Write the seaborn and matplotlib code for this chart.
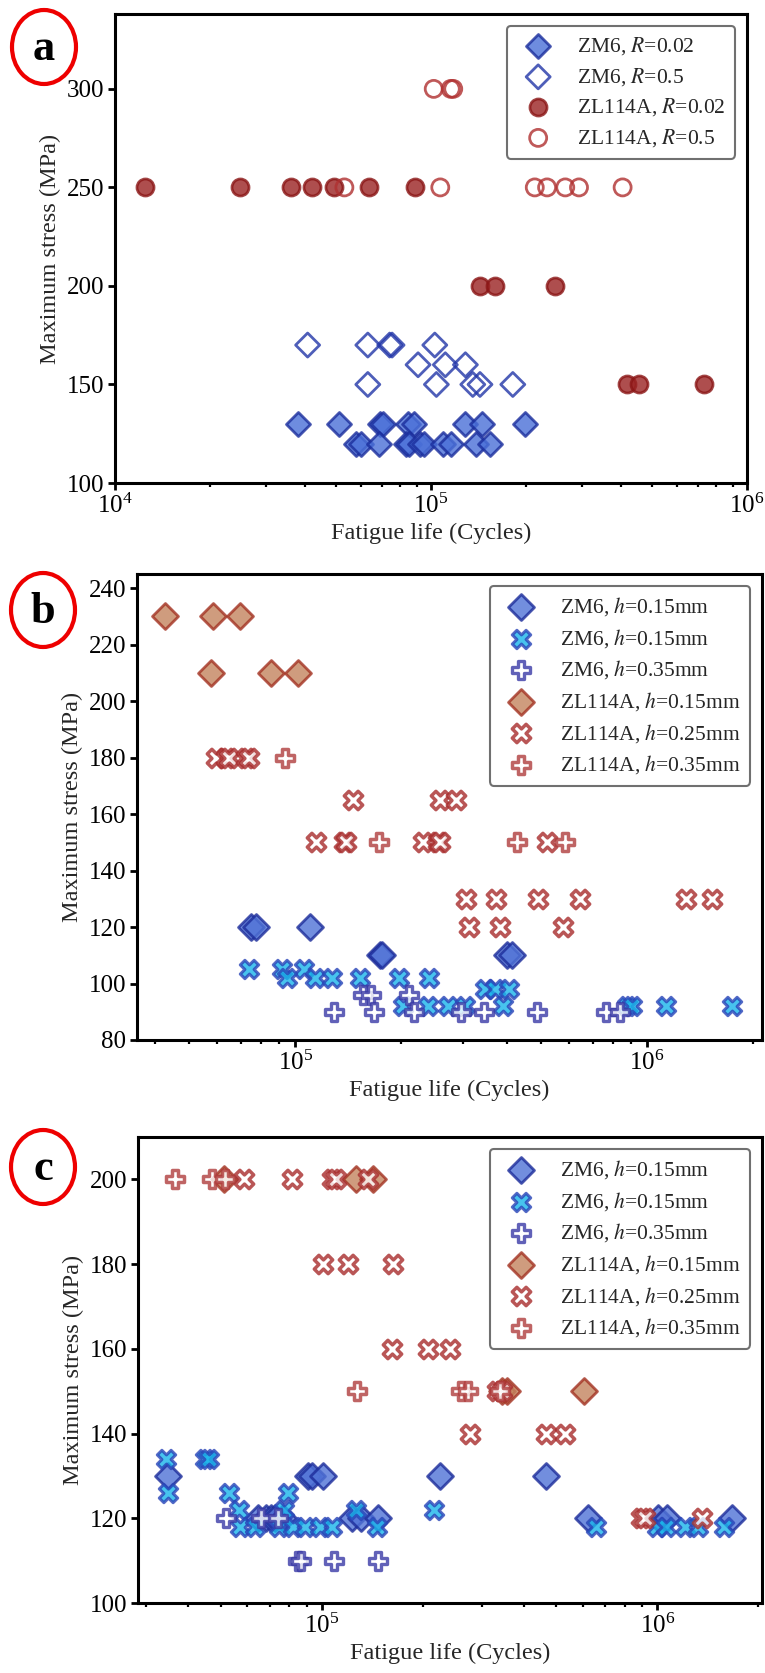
import numpy as np
import pandas as pd
import matplotlib
matplotlib.use("Agg")
import matplotlib.pyplot as plt
import seaborn as sns
from matplotlib.patches import Ellipse

# ---------------- data : panel a ----------------
a_zm6_r002_life = [37.9e3, 51.3e3, 69e3, 70.7e3, 84.7e3, 88.5e3, 128.5e3, 144.5e3, 198e3,
                   57.7e3, 60.2e3, 68.5e3, 83.3e3, 85.3e3, 92.2e3, 95e3, 109.4e3, 115.5e3, 139.3e3, 153.5e3]
a_zm6_r002_stress = [130] * 9 + [120] * 11
a_zm6_r05_life = [40.7e3, 63.1e3, 74e3, 75.3e3, 102.8e3,
                  91e3, 111e3, 128.5e3,
                  63.1e3, 104e3, 135.6e3, 142.9e3, 181.5e3]
a_zm6_r05_stress = [170] * 5 + [160] * 3 + [150] * 5
a_zl_r002_life = [12.4e3, 24.8e3, 36.1e3, 41.9e3, 49.2e3, 63.5e3, 89.3e3,
                  142.9e3, 159e3, 246e3,
                  416e3, 454e3, 729e3]
a_zl_r002_stress = [250] * 7 + [200] * 3 + [150] * 3
a_zl_r05_life = [102e3, 115.5e3, 117.6e3,
                 53.2e3, 107e3, 213e3, 233e3, 266e3, 294e3, 404e3]
a_zl_r05_stress = [300] * 3 + [250] * 7

# ---------------- data : panel b ----------------
b_zm6_d_life = [75e3, 77.5e3, 110e3, 173.8e3, 176.7e3, 400e3, 413e3]
b_zm6_d_stress = [120, 120, 120, 110, 110, 110, 110]
b_zm6_x_life = [73.8e3, 91.4e3, 105.6e3,
                94.7e3, 113.6e3, 127e3, 152.5e3, 196.8e3, 240.6e3,
                347e3, 370e3, 406e3,
                202e3, 239e3, 271.5e3, 303e3, 390e3, 875e3, 903e3, 1.13e6, 1.74e6]
b_zm6_x_stress = [105] * 3 + [102] * 6 + [98] * 3 + [92] * 9
b_zm6_p_life = [156e3, 164e3, 210e3,
                129e3, 167.5e3, 217e3, 296e3, 344e3, 485e3, 766e3, 839e3]
b_zm6_p_stress = [96] * 3 + [90] * 8
b_zl_d_life = [42.5e3, 58.5e3, 69.7e3, 57.5e3, 85.3e3, 102e3]
b_zl_d_stress = [230, 230, 230, 210, 210, 210]
b_zl_x_life = [59.7e3, 63.6e3, 65e3, 72.6e3, 73.8e3,
               145.6e3, 258.6e3, 286.5e3,
               114.4e3, 137.8e3, 139.8e3, 231e3, 254.7e3, 258.6e3, 520e3,
               305e3, 372e3, 490e3, 646e3, 1.29e6, 1.53e6,
               312e3, 382e3, 578e3]
b_zl_x_stress = [180] * 5 + [165] * 3 + [150] * 7 + [130] * 6 + [120] * 3
b_zl_p_life = [93.2e3, 173e3, 427e3, 583e3]
b_zl_p_stress = [180, 150, 150, 150]

# ---------------- data : panel c ----------------
c_zm6_d_life = [34.8e3, 91e3, 93.5e3, 100.7e3, 225e3, 467e3,
                64.3e3, 68e3, 70.4e3, 72.7e3, 76.5e3, 123e3, 130.7e3, 147e3,
                620e3, 1.007e6, 1.07e6, 1.67e6]
c_zm6_d_stress = [130] * 6 + [120] * 12
c_zm6_x_life = [34.3e3, 44.8e3, 46e3,
                34.8e3, 53e3, 79e3,
                56.6e3, 77.1e3, 126.4e3, 216e3,
                57e3, 63e3, 74.5e3, 81.8e3, 89e3, 98.4e3, 107e3, 146e3,
                656e3, 1.0e6, 1.06e6, 1.21e6, 1.32e6, 1.58e6]
c_zm6_x_stress = [134] * 3 + [126] * 3 + [122] * 4 + [118] * 14
c_zm6_p_life = [51.8e3, 66e3, 74e3, 85.1e3, 86.9e3, 108.7e3, 147e3]
c_zm6_p_stress = [120, 120, 120, 110, 110, 110, 110]
c_zl_d_life = [51.2e3, 126.4e3, 142e3, 345e3, 357e3, 605e3]
c_zl_d_stress = [200, 200, 200, 150, 150, 150]
c_zl_x_life = [58.5e3, 81.3e3, 107e3, 110.5e3, 137.5e3,
               101e3, 119.4e3, 163e3,
               161.5e3, 207.6e3, 241e3,
               333e3, 343e3,
               277e3, 467e3, 529e3,
               895e3, 916e3, 1.36e6]
c_zl_x_stress = [200] * 5 + [180] * 3 + [160] * 3 + [150] * 2 + [140] * 3 + [120] * 3
c_zl_p_life = [36.6e3, 47.1e3, 51.5e3, 127.6e3, 259.5e3, 273e3, 340e3]
c_zl_p_stress = [200, 200, 200, 150, 150, 150, 150]

legend_a = ["ZM6, $R$=0.02", "ZM6, $R$=0.5", "ZL114A, $R$=0.02", "ZL114A, $R$=0.5"]
legend_bc = ["ZM6, $h$=0.15mm", "ZM6, $h$=0.15mm", "ZM6, $h$=0.35mm",
             "ZL114A, $h$=0.15mm", "ZL114A, $h$=0.25mm", "ZL114A, $h$=0.35mm"]

# ---------------- style ----------------
sns.set_theme(style="ticks")
plt.rcParams["font.family"] = ["Liberation Serif", "DejaVu Serif"]
plt.rcParams["mathtext.fontset"] = "stix"
plt.rcParams["axes.linewidth"] = 2.2
plt.rcParams["xtick.major.width"] = 2.0
plt.rcParams["ytick.major.width"] = 2.0
plt.rcParams["xtick.minor.width"] = 1.6
plt.rcParams["xtick.major.size"] = 5
plt.rcParams["ytick.major.size"] = 5
plt.rcParams["xtick.minor.size"] = 3
plt.rcParams["xtick.color"] = "black"
plt.rcParams["ytick.color"] = "black"
plt.rcParams["axes.edgecolor"] = "black"

W, H = 765, 1673
fig = plt.figure(figsize=(W / 100, H / 100), dpi=100)


def ax_at(l, t, r, b):
    return fig.add_axes([l / W, 1 - b / H, (r - l) / W, (b - t) / H])


axA = ax_at(115, 14, 747, 483)
axB = ax_at(137, 574, 762, 1040)
axC = ax_at(138, 1137, 762, 1603)

ALPHA = 0.8


def sc(ax, x, y, marker, s, fc, ec, lw, label):
    sns.scatterplot(x=x, y=y, ax=ax, marker=marker, s=s, color=fc, edgecolor=ec,
                    linewidth=lw, alpha=ALPHA, label=label, zorder=3)


# panel a
sc(axA, a_zm6_r002_life, a_zm6_r002_stress, "D", 150, "#4a70d8", "#1a2d9c", 2.0, legend_a[0])
sc(axA, a_zm6_r05_life, a_zm6_r05_stress, "D", 150, "none", "#2236a8", 2.0, legend_a[1])
sc(axA, a_zl_r002_life, a_zl_r002_stress, "o", 150, "#9a2222", "#8a1515", 2.0, legend_a[2])
sc(axA, a_zl_r05_life, a_zl_r05_stress, "o", 150, "none", "#b03030", 2.0, legend_a[3])

# panels b and c
def panel_bc(ax, data):
    (zd, zds, zx, zxs, zp, zps, ld, lds, lx, lxs, lp, lps) = data
    sc(ax, zd, zds, "D", 175, "#4f72d6", "#1c2c9a", 2.0, legend_bc[0])
    sc(ax, zx, zxs, "X", 175, "#19b4ea", "#2a44b8", 2.2, legend_bc[1])
    sc(ax, zp, zps, "P", 175, "white", "#3a3aa6", 2.4, legend_bc[2])
    sc(ax, ld, lds, "D", 175, "#c4845e", "#a33222", 2.0, legend_bc[3])
    sc(ax, lx, lxs, "X", 175, "white", "#a82c2c", 2.5, legend_bc[4])
    sc(ax, lp, lps, "P", 175, "white", "#b03d3d", 2.5, legend_bc[5])


panel_bc(axB, (b_zm6_d_life, b_zm6_d_stress, b_zm6_x_life, b_zm6_x_stress, b_zm6_p_life, b_zm6_p_stress,
               b_zl_d_life, b_zl_d_stress, b_zl_x_life, b_zl_x_stress, b_zl_p_life, b_zl_p_stress))
panel_bc(axC, (c_zm6_d_life, c_zm6_d_stress, c_zm6_x_life, c_zm6_x_stress, c_zm6_p_life, c_zm6_p_stress,
               c_zl_d_life, c_zl_d_stress, c_zl_x_life, c_zl_x_stress, c_zl_p_life, c_zl_p_stress))

limits = [(axA, (1e4, 1e6), (100, 338), [100, 150, 200, 250, 300]),
          (axB, (35.5e3, 2.12e6), (80, 245), list(range(80, 241, 20))),
          (axC, (28.3e3, 2.05e6), (100, 210), list(range(100, 201, 20)))]
for ax, xl, yl, yt in limits:
    ax.set_xscale("log")
    ax.set_xlim(*xl)
    ax.set_ylim(*yl)
    ax.set_yticks(yt)
    ax.tick_params(axis="both", which="major", labelsize=18, direction="out", pad=3)
    ax.tick_params(axis="x", which="minor", direction="out")
    ax.tick_params(axis="y", which="minor", left=False)
    ax.set_xlabel("Fatigue life (Cycles)", fontsize=17.5, labelpad=3)
    ax.set_ylabel("Maximum stress (MPa)", fontsize=17.5, labelpad=4)
    for sp in ax.spines.values():
        sp.set_visible(True)
        sp.set_linewidth(2.2)
        sp.set_color("black")
    leg = ax.legend(loc="upper right", fontsize=15.5, frameon=True, fancybox=True,
                    borderaxespad=0.55, handletextpad=0.8, labelspacing=0.4,
                    borderpad=0.45, framealpha=1)
    leg.get_frame().set_edgecolor("#707070")
    leg.get_frame().set_linewidth(1.5)

# panel letters in red circles
for cx, cy, letter in [(44, 47, "a"), (43, 610, "b"), (43, 1167, "c")]:
    e = Ellipse((cx / W, 1 - cy / H), 64 / W, 74 / H, transform=fig.transFigure,
                fill=False, edgecolor="#ee0000", linewidth=3.0)
    fig.add_artist(e)
    fig.text(cx / W, 1 - (cy + 2) / H, letter, ha="center", va="center",
             fontsize=32, fontweight="bold", color="black")

fig.savefig("out.png", dpi=100)
